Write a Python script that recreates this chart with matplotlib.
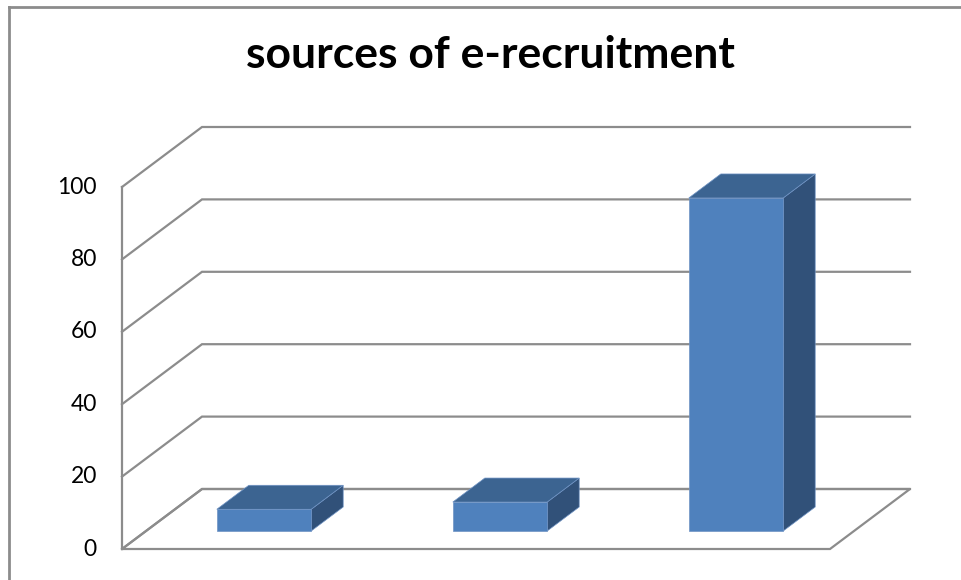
import matplotlib
matplotlib.use("Agg")
import matplotlib.pyplot as plt
from matplotlib.patches import Polygon
from matplotlib.lines import Line2D
import matplotlib.transforms as mtransforms

# Chart data
categories = ["", "", ""]
values = [6, 8, 92]
y_ticks = [0, 20, 40, 60, 80, 100]
title = "sources of e-recruitment"

W, H = 962, 580
fig = plt.figure(figsize=(W / 100, H / 100), dpi=100)
fig.patch.set_facecolor("white")

# Front plane of the 3-D box (pixel layout of the plot area)
left_px, right_px, bottom_px, top_px = 122, 830, 549, 187
ax = fig.add_axes([left_px / W, 1 - bottom_px / H,
                   (right_px - left_px) / W, (bottom_px - top_px) / H])
n = len(values)
ax.set_xlim(0, n)
ax.set_ylim(0, 100)
ax.axis("off")

px_x = (right_px - left_px) / n      # pixels per category
px_y = (bottom_px - top_px) / 100.0  # pixels per value unit
DX = 80 / px_x    # full depth shift, x (data units)
DY = 60 / px_y    # full depth shift, y (data units)

grid_c = "#8c8c8c"
lw = 1.6

def depth(x, y, d):
    return (x + DX * d, y + DY * d)

# Walls: diagonals on the side wall and horizontal grid lines on the back wall
for t in y_ticks:
    x0, y0 = depth(0, t, 0)
    x1, y1 = depth(0, t, 1)
    x2, y2 = depth(n, t, 1)
    ax.add_line(Line2D([x0, x1, x2], [y0, y1, y2], color=grid_c, lw=lw,
                       clip_on=False, solid_joinstyle="miter"))

# Left vertical axis edge
ax.add_line(Line2D([0, 0], [0, 100], color=grid_c, lw=lw, clip_on=False))

# Floor outline
floor = [depth(0, 0, 0), depth(n, 0, 0), depth(n, 0, 1), depth(0, 0, 1)]
ax.add_patch(Polygon(floor, closed=True, fill=False, edgecolor=grid_c,
                     lw=lw, clip_on=False, joinstyle="miter"))

# 3-D columns
bar_w = 0.40
d0, d1 = 0.30, 0.70
front_c, top_c, side_c = "#4f81bd", "#3c6491", "#315179"
for i, v in enumerate(values):
    xl = i + 0.5 - bar_w / 2
    xr = i + 0.5 + bar_w / 2
    fl = depth(xl, 0, d0); fr = depth(xr, 0, d0)
    tl = depth(xl, v, d0); tr = depth(xr, v, d0)
    btl = depth(xl, v, d1); btr = depth(xr, v, d1)
    bbr = depth(xr, 0, d1)
    side = [fr, tr, btr, bbr]
    top = [tl, tr, btr, btl]
    front = [fl, fr, tr, tl]
    for poly, c in ((side, side_c), (top, top_c), (front, front_c)):
        ax.add_patch(Polygon(poly, closed=True, facecolor=c,
                             edgecolor="#6f93c4", lw=0.5, clip_on=False,
                             zorder=3))

# Value axis labels
lab_tr = mtransforms.offset_copy(ax.transData, fig=fig, x=-25, y=0,
                                 units="dots")
for t in y_ticks:
    ax.text(0, t, str(t), transform=lab_tr, ha="right", va="center",
            fontsize=16.5, family="Lato", color="black")

# Title
fig.text(490 / W, 1 - 55 / H, title, ha="center", va="center",
         fontsize=32, fontweight="bold", family="Lato", color="black")

# Chart area border (left and top edges)
fig.add_artist(Line2D([9 / W, 9 / W], [0, 1 - 7 / H], color=grid_c, lw=2,
                      transform=fig.transFigure))
fig.add_artist(Line2D([9 / W, 1], [1 - 7 / H, 1 - 7 / H], color=grid_c,
                      lw=2, transform=fig.transFigure))

fig.savefig("out.png", dpi=100, facecolor="white")
